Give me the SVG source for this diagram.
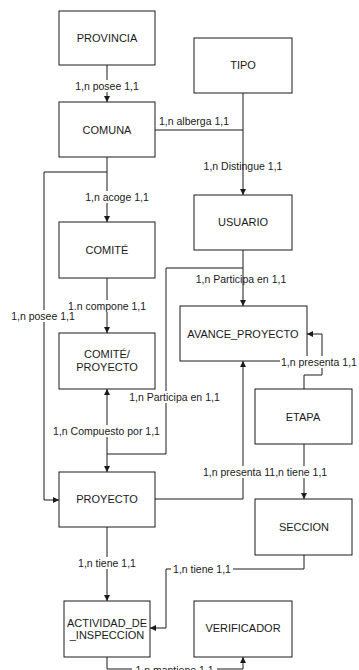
<svg xmlns="http://www.w3.org/2000/svg" width="359" height="670" viewBox="0 0 359 670">
<style>
.box{fill:#fff;stroke:#1a1a1a;stroke-width:1}
.nt{font-family:"Liberation Sans",Arial,sans-serif;font-size:11px;fill:#1a1a1a;text-anchor:middle;dominant-baseline:central}
.lt{font-family:"Liberation Sans",Arial,sans-serif;font-size:10.5px;fill:#1a1a1a;text-anchor:middle;dominant-baseline:central}
.ln{fill:none;stroke:#1a1a1a;stroke-width:1}
.arr{marker-end:url(#ah)}
.bg{fill:#fff}
</style>
<defs>
<marker id="ah" viewBox="0 0 10 10" refX="10" refY="5" markerWidth="6" markerHeight="7" markerUnits="userSpaceOnUse" orient="auto">
<path d="M0,0 L10,5 L0,10 z" fill="#1a1a1a"/>
</marker>
</defs>
<rect width="359" height="670" fill="#fff"/>
<g id="nodes">
<g id="provincia"><rect class="box" x="59" y="11" width="96" height="54"/><text class="nt" x="107" y="38">PROVINCIA</text></g>
<g id="comuna"><rect class="box" x="59" y="102" width="96" height="55"/><text class="nt" x="107" y="130">COMUNA</text></g>
<g id="tipo"><rect class="box" x="194" y="38" width="98" height="55"/><text class="nt" x="243" y="65">TIPO</text></g>
<g id="usuario"><rect class="box" x="194" y="195" width="98" height="55"/><text class="nt" x="243" y="222">USUARIO</text></g>
<g id="comite"><rect class="box" x="59" y="222" width="96" height="56"/><text class="nt" x="107" y="250">COMITÉ</text></g>
<g id="comite_proyecto"><rect class="box" x="59" y="333" width="96" height="56"/><text class="nt" x="107" y="354">COMITÉ/</text><text class="nt" x="107" y="367">PROYECTO</text></g>
<g id="avance_proyecto"><rect class="box" x="180" y="306" width="127" height="55"/><text class="nt" x="243" y="334">AVANCE_PROYECTO</text></g>
<g id="etapa"><rect class="box" x="255" y="389" width="97" height="55"/><text class="nt" x="303" y="417">ETAPA</text></g>
<g id="proyecto"><rect class="box" x="59" y="472" width="96" height="55"/><text class="nt" x="107" y="499">PROYECTO</text></g>
<g id="seccion"><rect class="box" x="255" y="499" width="97" height="56"/><text class="nt" x="304" y="527">SECCION</text></g>
<g id="actividad"><rect class="box" x="64" y="601" width="86" height="56"/><text class="nt" x="107" y="623">ACTIVIDAD_DE</text><text class="nt" x="107" y="635">_INSPECCION</text></g>
<g id="verificador"><rect class="box" x="194" y="601" width="98" height="56"/><text class="nt" x="243" y="628">VERIFICADOR</text></g>
</g>
<g id="connectors">
<path class="ln arr" d="M107,65 V102"/>
<path class="ln" d="M155,130 H243"/>
<path class="ln arr" d="M243,93 V195"/>
<path class="ln arr" d="M107,157 V222"/>
<path class="ln arr" d="M107,172 H44 V500 H59"/>
<path class="ln arr" d="M107,278 V333"/>
<path class="ln arr" d="M243,250 V306"/>
<path class="ln arr" d="M243,268 H166 V454 H107 V472"/>
<path class="ln arr" d="M107,454 V389"/>
<path class="ln arr" d="M304,389 V375 H322 V334 H307"/>
<path class="ln arr" d="M155,499 H243 V361"/>
<path class="ln arr" d="M304,444 V499"/>
<path class="ln arr" d="M107,527 V601"/>
<path class="ln arr" d="M304,555 V569 H166 V628 H150"/>
<path class="ln arr" d="M107,657 V669 H243 V657"/>
</g>
<g id="labels">
<rect class="bg" x="73" y="80" width="68" height="12"/><text class="lt" x="107" y="86">1,n posee 1,1</text>
<text class="lt" x="194" y="121">1,n alberga 1,1</text>
<text class="lt" x="243" y="166">1,n Distingue 1,1</text>
<rect class="bg" x="84" y="191" width="66" height="12"/><text class="lt" x="117" y="197">1,n acoge 1,1</text>
<rect class="bg" x="66" y="300" width="83" height="12"/><text class="lt" x="107" y="306">1,n compone 1,1</text>
<rect class="bg" x="11" y="310" width="65" height="12"/><text class="lt" x="43" y="316">1,n posee 1,1</text>
<text class="lt" x="241" y="279">1,n Participa en 1,1</text>
<rect class="bg" x="280" y="356" width="79" height="12"/><text class="lt" x="281" y="362" style="text-anchor:start">1,n presenta 1,1</text>
<rect class="bg" x="127" y="391" width="95" height="12"/><text class="lt" x="174.5" y="397">1,n Participa en 1,1</text>
<rect class="bg" x="51" y="425" width="111" height="12"/><text class="lt" x="106.5" y="431">1,n Compuesto por 1,1</text>
<rect class="bg" x="202" y="466" width="127" height="12"/><text class="lt" x="203" y="472" style="text-anchor:start">1,n presenta 11,n tiene 1,1</text>
<rect class="bg" x="76" y="557" width="62" height="12"/><text class="lt" x="107" y="563">1,n tiene 1,1</text>
<rect class="bg" x="171" y="563" width="62" height="12"/><text class="lt" x="202" y="569">1,n tiene 1,1</text>
<rect class="bg" x="132" y="664" width="85" height="12"/><text class="lt" x="174.5" y="670">1,n mantiene 1,1</text>
</g>
</svg>
